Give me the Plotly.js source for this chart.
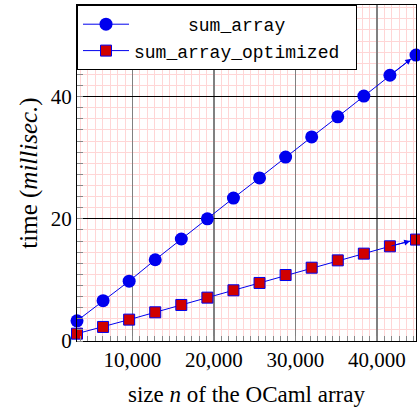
<!DOCTYPE html>
<html>
<head>
<meta charset="utf-8">
<script src="https://cdn.plot.ly/plotly-3.0.1.min.js"></script>
<style>html,body{margin:0;padding:0;background:#fff;}#chart{width:420px;height:411px;}</style>
</head>
<body>
<div id="chart"></div>
<script>
const sizes = [3200, 6400, 9600, 12800, 16000, 19200, 22400, 25600, 28800, 32000, 35200, 38400, 41600, 44800];
const sumArray = [3.3, 6.6, 9.8, 13.3, 16.7, 20.0, 23.4, 26.7, 30.1, 33.4, 36.7, 40.1, 43.5, 46.8];
const sumArrayOptimized = [1.2, 2.3, 3.5, 4.7, 5.9, 7.1, 8.3, 9.5, 10.8, 12.0, 13.2, 14.3, 15.5, 16.6];
const seriesNames = ['\u00a0\u00a0\u00a0\u00a0\u00a0sum_array\u00a0\u00a0\u00a0\u00a0\u00a0\u00a0', 'sum_array_optimized\u00a0'];
const xTickVals = [10000, 20000, 30000, 40000];
const xTickText = ['10,000', '20,000', '30,000', '40,000'];
const yTickVals = [0, 20, 40];

const blue = '#0000ee';
const traces = [
  {x: sizes, y: sumArray, name: seriesNames[0], mode: 'lines+markers', cliponaxis: false,
   line: {color: blue, width: 1}, marker: {symbol: 'circle', size: 13, color: blue, line: {width: 0}}},
  {x: sizes, y: sumArrayOptimized, name: seriesNames[1], mode: 'lines+markers', cliponaxis: false,
   line: {color: blue, width: 1}, marker: {symbol: 'square', size: 11, color: '#d00000', line: {color: blue, width: 1}}}
];
const n = sizes.length;
const annotations = [sumArray, sumArrayOptimized].map(s => ({
  x: sizes[n-1], y: s[n-1], ax: sizes[n-2], ay: s[n-2], axref: 'x', ayref: 'y', xref: 'x', yref: 'y',
  text: '', showarrow: true, arrowhead: 2, arrowsize: 1.2, arrowwidth: 1, arrowcolor: blue, standoff: 6
}));

const layout = {
  width: 420, height: 411,
  margin: {l: 77, r: 4, t: 5, b: 70},
  paper_bgcolor: '#fff', plot_bgcolor: '#fff',
  font: {family: 'Liberation Serif, serif', color: '#000'},
  showlegend: true,
  legend: {x: 0, y: 1, xanchor: 'left', yanchor: 'top', bgcolor: '#fff', bordercolor: '#000', borderwidth: 1,
           font: {family: 'Liberation Mono, monospace', size: 18, color: '#000'}, itemwidth: 46, tracegroupgap: 4},
  annotations: annotations,
  xaxis: {
    range: [3200, 44800], tickvals: xTickVals, ticktext: xTickText, ticks: '',
    tickfont: {size: 21}, showline: true, linecolor: '#000', linewidth: 1, mirror: true,
    showgrid: true, gridcolor: '#808080', gridwidth: 1.5, zeroline: false,
    minor: {dtick: 10000/11, tick0: 0, showgrid: true, gridcolor: '#ffd6d6', gridwidth: 1, ticks: 'inside', ticklen: 5, tickcolor: '#888'},
    title: {text: 'size <i>n</i> of the OCaml array', font: {size: 23}, standoff: 14}
  },
  yaxis: {
    range: [0, 55], tickvals: yTickVals, ticks: '',
    tickfont: {size: 21}, showline: true, linecolor: '#000', linewidth: 1, mirror: true,
    showgrid: true, gridcolor: '#000', gridwidth: 1, zeroline: false,
    minor: {dtick: 20/11, tick0: 0, showgrid: true, gridcolor: '#ffd6d6', gridwidth: 1, ticks: 'inside', ticklen: 6, tickcolor: '#888'},
    title: {text: 'time (<i>millisec.</i>)', font: {size: 25}, standoff: 6}
  }
};
Plotly.newPlot('chart', traces, layout, {displayModeBar: false, staticPlot: true});
</script>
</body>
</html>
